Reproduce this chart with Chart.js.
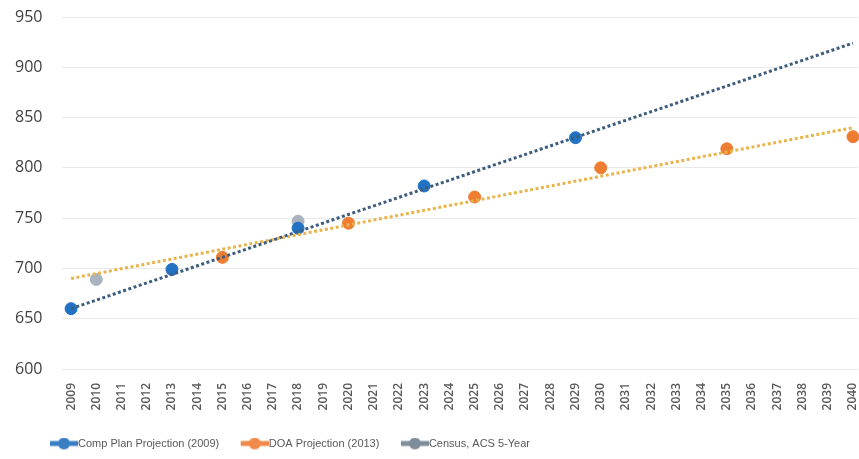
<!DOCTYPE html>
<html lang="en">

<head>
    <meta charset="UTF-8">
    <title>Population projections</title>
    <style>
        html, body { margin: 0; padding: 0; background: #fff; overflow: hidden; }
        #wrap { width: 859px; height: 459px; }
        canvas { display: block; }
    </style>
</head>

<body>
    <div id="wrap"><canvas id="myChart"></canvas></div>

    <script src="https://cdn.jsdelivr.net/npm/chart.js"></script>
    <script>
        // tick labels
        const years = [2009, 2010, 2011, 2012, 2013, 2014, 2015, 2016, 2017, 2018, 2019, 2020, 2021, 2022, 2023, 2024,
            2025, 2026, 2027, 2028, 2029, 2030, 2031, 2032, 2033, 2034, 2035, 2036, 2037, 2038, 2039, 2040];
        const yTicks = [600, 650, 700, 750, 800, 850, 900, 950];

        // series
        const compPlanYears = [2009, 2013, 2018, 2023, 2029];
        const compPlanValues = [660, 699, 740, 782, 830];
        const doaYears = [2015, 2020, 2025, 2030, 2035, 2040];
        const doaValues = [711, 745, 771, 800, 819, 831];
        const censusYears = [2010, 2018];
        const censusValues = [689, 747];

        // trendline end points
        const trendYears = [2009, 2040];
        const compPlanTrend = [660, 924];
        const doaTrend = [690, 840];

        const labels = ['Comp Plan Projection (2009)', 'DOA Projection (2013)', 'Census, ACS 5-Year'];
        const colors = ['#2272c3', '#ee7d31', '#a9b3c0'];
        const legendColors = ['#3a7fc4', '#ef8a4a', '#7f8d9b'];

        const toPoints = (xs, ys) => xs.map((x, i) => ({ x: x, y: ys[i] }));

        // legend icon: a thick line with a dot, drawn on the right side of a small canvas
        function legendIcon(color) {
            const c = document.createElement('canvas');
            c.width = 55;
            c.height = 14;
            const g = c.getContext('2d');
            g.strokeStyle = color;
            g.lineWidth = 5;
            g.beginPath();
            g.moveTo(27, 7);
            g.lineTo(55, 7);
            g.stroke();
            g.fillStyle = color;
            g.beginPath();
            g.arc(41, 7, 6, 0, Math.PI * 2);
            g.fill();
            return c;
        }
        const icons = legendColors.map(legendIcon);

        const datasets = [
            {
                label: labels[0],
                data: toPoints(compPlanYears, compPlanValues),
                showLine: false,
                clip: false,
                pointRadius: 6,
                pointBackgroundColor: colors[0],
                pointBorderColor: colors[0],
                backgroundColor: colors[0],
                borderColor: colors[0]
            },
            {
                label: labels[1],
                data: toPoints(doaYears, doaValues),
                showLine: false,
                clip: false,
                pointRadius: 6,
                pointBackgroundColor: colors[1],
                pointBorderColor: colors[1],
                backgroundColor: colors[1],
                borderColor: colors[1]
            },
            {
                label: labels[2],
                data: toPoints(censusYears, censusValues),
                showLine: false,
                clip: false,
                pointRadius: 6,
                pointBackgroundColor: colors[2],
                pointBorderColor: colors[2],
                backgroundColor: colors[2],
                borderColor: colors[2]
            },
            {
                label: 'trend1',
                data: toPoints(trendYears, compPlanTrend),
                borderColor: '#3d5d80',
                borderWidth: 3,
                borderDash: [3, 2.5],
                pointRadius: 0,
                clip: false,
                order: -1
            },
            {
                label: 'trend2',
                data: toPoints(trendYears, doaTrend),
                borderColor: '#e9b44c',
                borderWidth: 3,
                borderDash: [3, 2.5],
                pointRadius: 0,
                clip: false,
                order: -1
            }
        ];

        // move the legend to where it sits in the original
        const legendPlace = {
            id: 'legendPlace',
            afterLayout(chart) {
                chart.legend.left = 28.5;
            }
        };

        const canvas = document.getElementById('myChart');

        const chart = new Chart(canvas, {
            type: 'line',
            data: { datasets: datasets },
            plugins: [legendPlace],
            options: {
                responsive: true,
                maintainAspectRatio: false,
                animation: false,
                layout: {
                    autoPadding: false,
                    padding: { left: 15, right: 1, top: 17, bottom: 0 }
                },
                plugins: {
                    tooltip: { enabled: false },
                    legend: {
                        position: 'bottom',
                        align: 'start',
                        labels: {
                            usePointStyle: true,
                            pointStyleWidth: 44,
                            padding: 0,
                            color: '#595959',
                            font: { family: "'Liberation Sans', sans-serif", size: 11 },
                            filter: (item) => item.datasetIndex < 3,
                            generateLabels: (ch) => {
                                const items = Chart.defaults.plugins.legend.labels.generateLabels(ch);
                                items.forEach((it) => {
                                    if (it.datasetIndex < 3) it.pointStyle = icons[it.datasetIndex];
                                });
                                return items;
                            }
                        }
                    }
                },
                scales: {
                    x: {
                        type: 'linear',
                        min: 2008.64,
                        max: 2040.2,
                        // invisible grid, only used for the gap above the year labels
                        grid: { color: 'rgba(0,0,0,0)', drawOnChartArea: false, drawTicks: true, tickLength: 14 },
                        border: { display: false },
                        afterBuildTicks: (scale) => {
                            scale.ticks = years.map((v) => ({ value: v }));
                        },
                        afterFit: (scale) => {
                            scale.height = 69;
                            scale.paddingLeft = 0;
                            scale.paddingRight = 0;
                        },
                        ticks: {
                            autoSkip: false,
                            minRotation: 90,
                            maxRotation: 90,
                            padding: 0,
                            color: '#595959',
                            font: { family: "'Open Sans', sans-serif", size: 12, weight: '600' },
                            callback: (v) => String(v)
                        }
                    },
                    y: {
                        min: 600,
                        max: 950,
                        afterBuildTicks: (scale) => {
                            scale.ticks = yTicks.map((v) => ({ value: v }));
                        },
                        afterFit: (scale) => {
                            scale.width = 47;
                        },
                        grid: { color: '#e9e9e9', drawTicks: false },
                        border: { display: false },
                        ticks: {
                            padding: 0,
                            crossAlign: 'far',
                            color: '#404040',
                            font: { family: "'Open Sans', sans-serif", size: 16 }
                        }
                    }
                }
            }
        });
    </script>
</body>

</html>
